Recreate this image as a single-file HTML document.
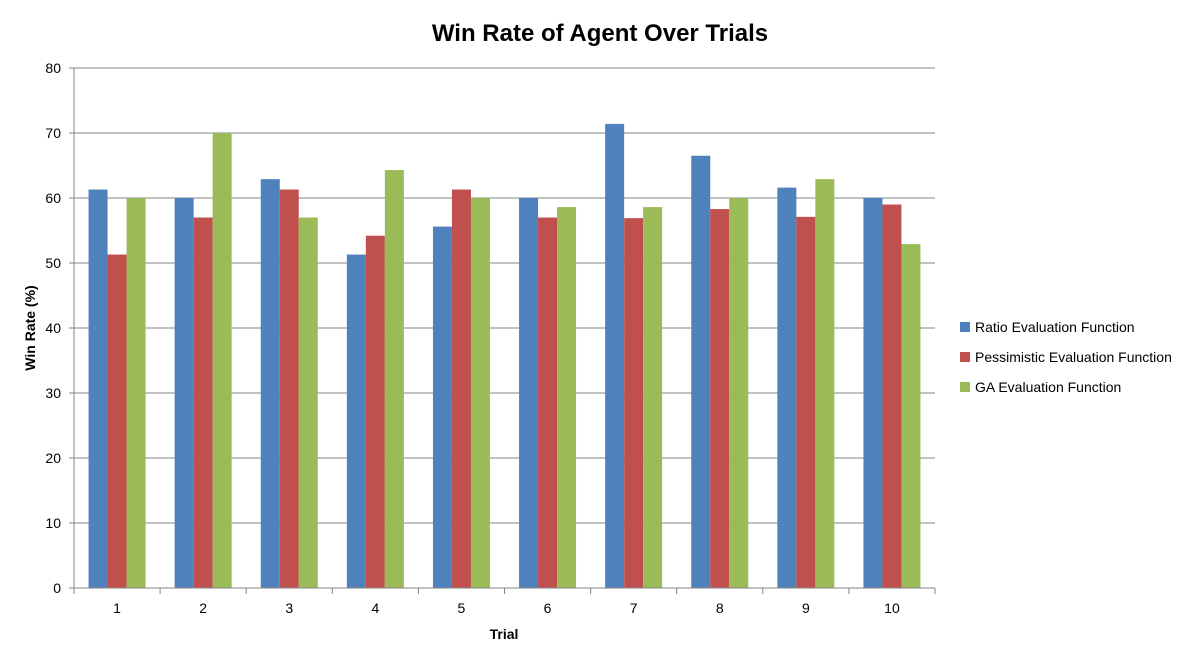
<!DOCTYPE html>
<html><head><meta charset="utf-8"><style>
body{margin:0;background:#fff;font-family:"Liberation Sans",sans-serif}
</style></head><body>
<svg id="c" width="1197" height="660" font-family="Liberation Sans, sans-serif"></svg>
<script>
const categories=["1","2","3","4","5","6","7","8","9","10"];
const ratioVals=[61.3,60,62.9,51.3,55.6,60,71.4,66.5,61.6,60];
const pessVals=[51.3,57,61.3,54.2,61.3,57,56.9,58.3,57.1,59];
const gaVals=[60,70,57,64.3,60,58.6,58.6,60,62.9,52.9];
const yTicks=[0,10,20,30,40,50,60,70,80];
const seriesNames=["Ratio Evaluation Function","Pessimistic Evaluation Function","GA Evaluation Function"];
const colors=["#4f81bd","#c0504d","#9bbb59"];
const svg=document.getElementById('c');
const NS='http://www.w3.org/2000/svg';
const L=74,R=935,T=68,B=588,yMax=80;
const y=v=>B-(v/yMax)*(B-T);
const cw=(R-L)/categories.length;
const xc=i=>L+cw*(i+0.5);
function mk(t,a,txt){const e=document.createElementNS(NS,t);for(const k in a)e.setAttribute(k,a[k]);if(txt!=null)e.textContent=txt;svg.appendChild(e);return e;}
let e=mk('text',{x:600,y:41,'text-anchor':'middle','font-size':24,'font-weight':'bold',fill:'#000'},'Win Rate of Agent Over Trials');


yTicks.forEach(t=>{
 let g=mk('line',{x1:L,x2:R,y1:y(t),y2:y(t),stroke:'#868686','stroke-width':1});
 
 
 let l=mk('text',{x:L-13,y:y(t)+5,'text-anchor':'end','font-size':14,fill:'#000'},t);
 
 
 let tk=mk('line',{x1:L-5,x2:L,y1:y(t),y2:y(t),stroke:'#868686'});
 
 
});
let ax=mk('line',{x1:L,x2:L,y1:T,y2:B,stroke:'#868686'});


const all=[ratioVals,pessVals,gaVals];
const bw=19;
categories.forEach((c,i)=>{
 all.forEach((s,j)=>{
  const r=mk('rect',{x:xc(i)-bw*1.5+j*bw,y:y(s[i]),width:bw,height:B-y(s[i]),fill:colors[j]});
  
  
 });
 const l=mk('text',{x:xc(i),y:613,'text-anchor':'middle','font-size':14,fill:'#000'},c);
 
 
});
for(let i=0;i<=categories.length;i++){
 const t=mk('line',{x1:L+cw*i,x2:L+cw*i,y1:B,y2:B+6,stroke:'#868686'});
 
 
}
let xa=mk('line',{x1:L,x2:R,y1:B,y2:B,stroke:'#868686'});


let xt=mk('text',{x:504,y:639,'text-anchor':'middle','font-size':14,'font-weight':'bold'},'Trial');


let yt=mk('text',{x:0,y:0,'text-anchor':'middle','font-size':14,'font-weight':'bold',transform:'translate(35,328) rotate(-90)'},'Win Rate (%)');


seriesNames.forEach((n,j)=>{
 const yy=327+j*30;
 const s=mk('rect',{x:960,y:yy-5,width:10,height:10,fill:colors[j]});
 
 
 const t=mk('text',{x:975,y:yy+5,'font-size':14},n);
 
 
});
</script>
</body></html>
